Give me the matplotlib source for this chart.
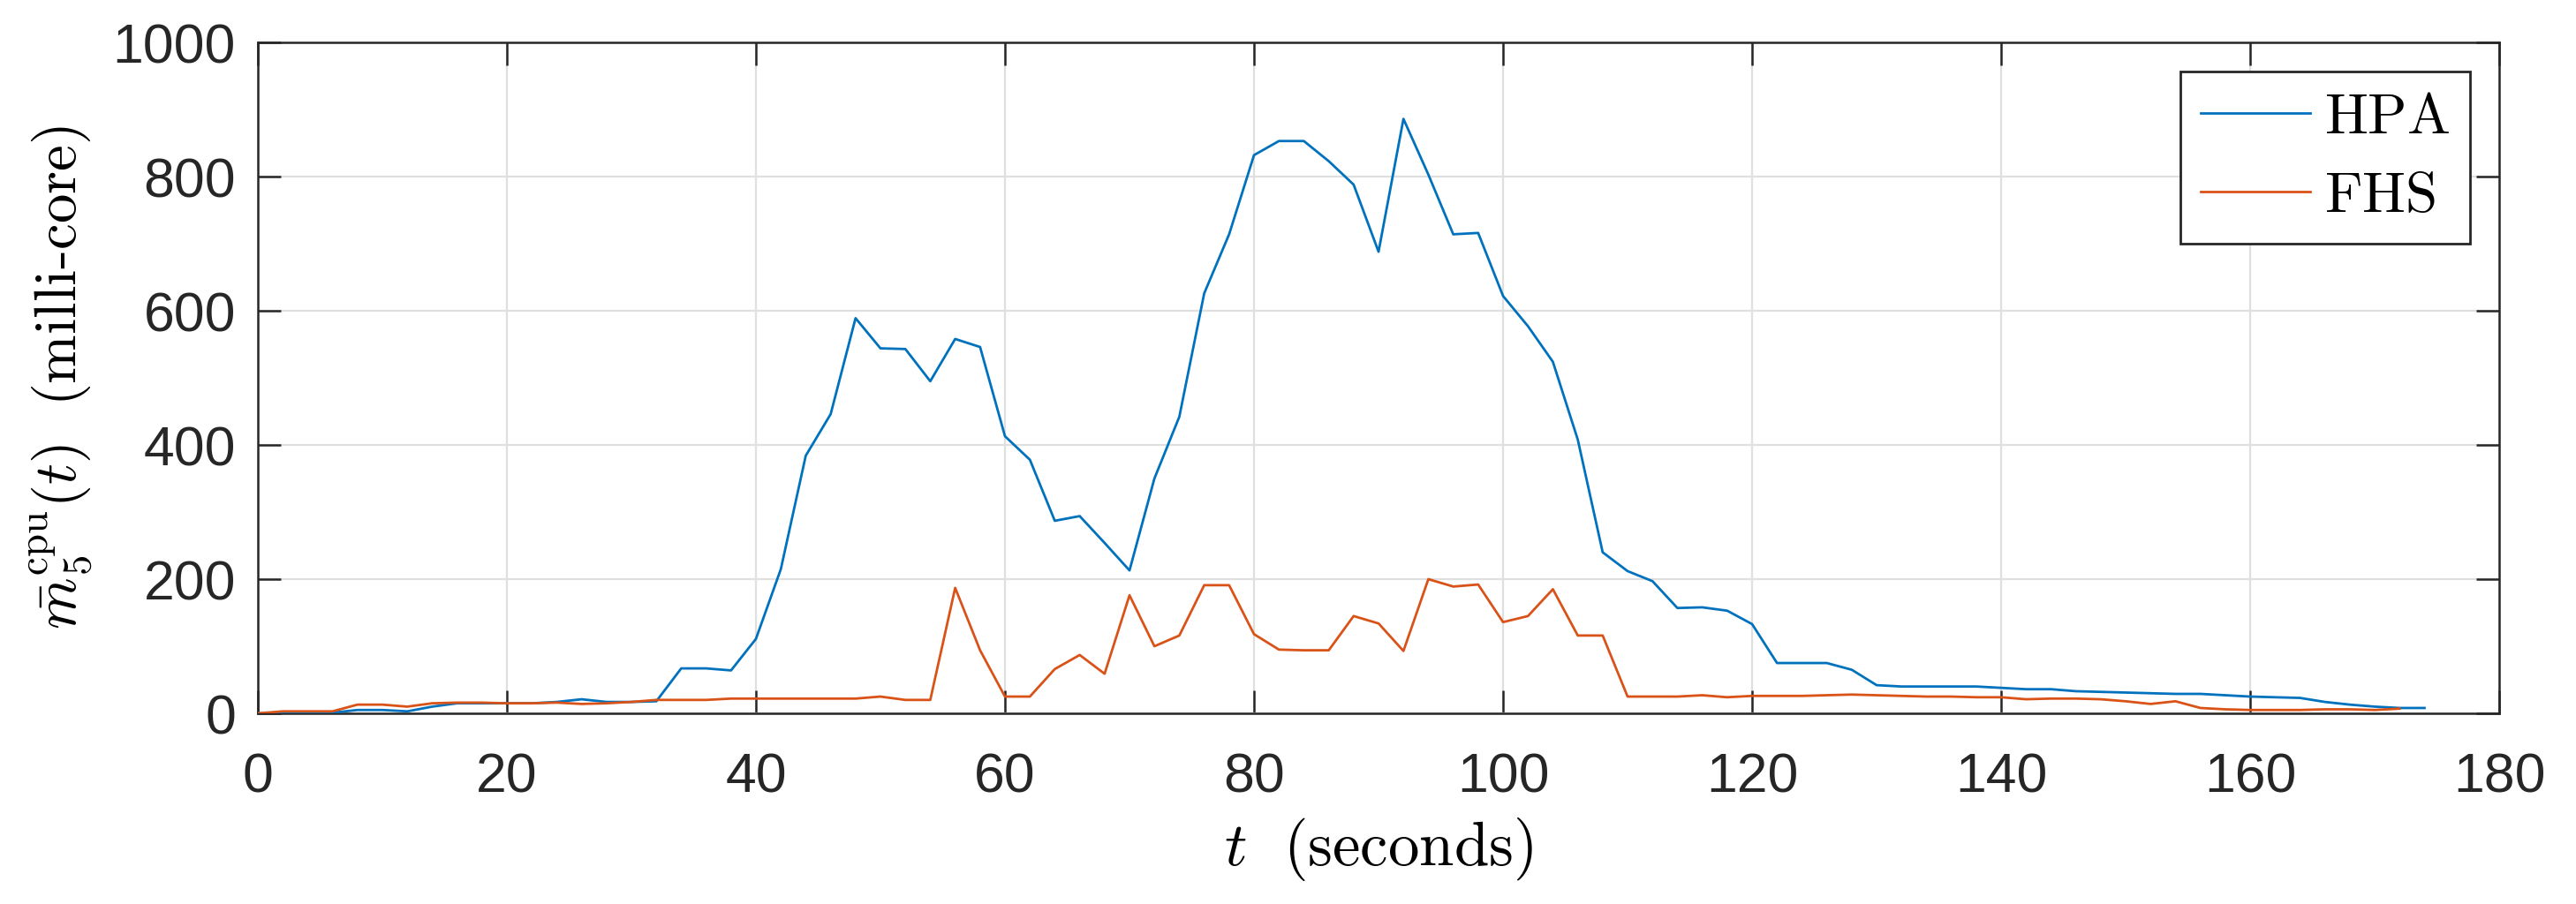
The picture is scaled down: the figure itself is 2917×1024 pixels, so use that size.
import matplotlib
matplotlib.use("Agg")
import matplotlib.pyplot as plt

# sample times (seconds)
t_hpa = list(range(0, 176, 2))
t_fhs = list(range(0, 174, 2))

# mean cpu usage of pod 5 (milli-core)
hpa = [0, 0, 0, 1, 5, 5, 3, 10, 15, 15,
       15, 15, 17, 21, 17, 17, 18, 67, 67, 64,
       111, 215, 384, 446, 589, 544, 543, 495, 558, 546,
       413, 378, 287, 294, 254, 213, 350, 442, 626, 714,
       832, 853, 853, 823, 788, 688, 886, 803, 714, 716,
       622, 577, 524, 408, 240, 212, 197, 157, 158, 153,
       133, 75, 75, 75, 65, 42, 40, 40, 40, 40,
       38, 36, 36, 33, 32, 31, 30, 29, 29, 27,
       25, 24, 23, 17, 13, 10, 8, 8]
fhs = [0, 3, 3, 3, 13, 13, 10, 15, 16, 16,
       15, 15, 16, 14, 15, 17, 20, 20, 20, 22,
       22, 22, 22, 22, 22, 25, 20, 20, 187, 94,
       25, 25, 66, 87, 59, 176, 100, 116, 191, 191,
       118, 95, 94, 94, 145, 134, 93, 200, 189, 192,
       136, 145, 185, 116, 116, 25, 25, 25, 27, 24,
       26, 26, 26, 27, 28, 27, 26, 25, 25, 24,
       24, 21, 22, 22, 21, 18, 14, 18, 8, 6,
       5, 5, 5, 6, 6, 5, 7]

xticks = [0, 20, 40, 60, 80, 100, 120, 140, 160, 180]
yticks = [0, 200, 400, 600, 800, 1000]

plt.rcParams['mathtext.fontset'] = 'cm'
plt.rcParams['font.family'] = ['Liberation Sans', 'DejaVu Sans']

fig = plt.figure(figsize=(29.17, 10.24), dpi=100)
ax = fig.add_axes([0.1001, 0.2109, 0.8701, 0.7422])

ax.plot(t_hpa, hpa, color='#0072BD', lw=2.0, label=r'$\mathrm{HPA}$', zorder=3)
ax.plot(t_fhs, fhs, color='#D95319', lw=2.0, label=r'$\mathrm{FHS}$', zorder=3)

ax.set_xlim(0, 180)
ax.set_ylim(0, 1000)
ax.set_xticks(xticks)
ax.set_yticks(yticks)
ax.grid(True, color='#dfdfdf', lw=1.6)
ax.set_axisbelow(True)

ax.tick_params(direction='in', length=19, width=1.8, color='#262626',
               labelsize=45, labelcolor='#262626', top=True, right=True)
ax.tick_params(axis='x', pad=31)
ax.tick_params(axis='y', pad=18)
for s in ax.spines.values():
    s.set_linewidth(1.8)
    s.set_color('#262626')

ax.set_xlabel(r'$t\ \ \mathrm{(seconds)}$', fontsize=51, labelpad=10)
ax.set_ylabel(r'$\bar{m}_5^{\mathrm{cpu}}(t)\ \ \mathrm{(milli\text{-}core)}$', fontsize=48, labelpad=14)

leg = ax.legend(loc='upper right', fontsize=47, handlelength=1.9, borderaxespad=0.5,
                fancybox=False, edgecolor='#262626', framealpha=1,
                borderpad=0.35, labelspacing=0.45, handletextpad=0.25)
leg.get_frame().set_linewidth(2.0)
for h in leg.get_lines():
    h.set_linewidth(2.0)

fig.savefig('out.png', dpi=100, facecolor='white')
